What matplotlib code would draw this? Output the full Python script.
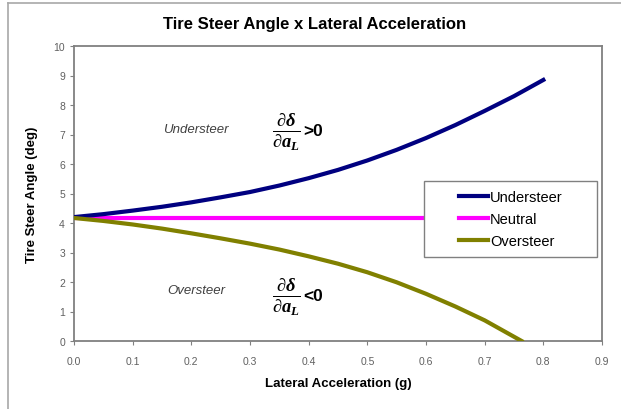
import matplotlib
matplotlib.use("Agg")
import matplotlib.pyplot as plt
from matplotlib.lines import Line2D
from matplotlib.patches import Rectangle

plt.rcParams['font.family'] = ['Liberation Sans', 'DejaVu Sans']
plt.rcParams['mathtext.fontset'] = 'custom'
plt.rcParams['mathtext.rm'] = 'Liberation Serif:bold:italic'
plt.rcParams['mathtext.it'] = 'Liberation Serif:bold:italic'
plt.rcParams['mathtext.bf'] = 'Liberation Serif:bold:italic'

accel = [0.0, 0.05, 0.1, 0.15, 0.2, 0.25, 0.3, 0.35, 0.4, 0.45, 0.5, 0.55, 0.6, 0.65, 0.7, 0.75, 0.8]
understeer = [4.2, 4.3, 4.42, 4.55, 4.7, 4.87, 5.05, 5.27, 5.52, 5.8, 6.12, 6.48, 6.88, 7.32, 7.8, 8.3, 8.85]
neutral = [4.17] * len(accel)
over_accel = [0.0, 0.05, 0.1, 0.15, 0.2, 0.25, 0.3, 0.35, 0.4, 0.45, 0.5, 0.55, 0.6, 0.65, 0.7, 0.763]
oversteer = [4.17, 4.07, 3.95, 3.81, 3.65, 3.48, 3.3, 3.1, 2.87, 2.62, 2.33, 1.99, 1.6, 1.17, 0.7, 0.0]
xticks = [0.0, 0.1, 0.2, 0.3, 0.4, 0.5, 0.6, 0.7, 0.8, 0.9]
yticks = [0, 1, 2, 3, 4, 5, 6, 7, 8, 9, 10]
series_names = ['Understeer', 'Neutral', 'Oversteer']
series_colors = ['#000080', '#ff00ff', '#808000']

W, H = 621, 410
fig = plt.figure(figsize=(W / 100, H / 100), dpi=100)
ax = fig.add_axes([74 / W, (H - 342) / H, (602 - 74) / W, (342 - 47) / H])

# outer frame lines (left and top)
fig.add_artist(Line2D([7.5 / W, 7.5 / W], [0, (H - 4) / H], color='#a8a8a8', lw=1.2, transform=fig.transFigure))
fig.add_artist(Line2D([7.5 / W, 1], [(H - 4) / H, (H - 4) / H], color='#a8a8a8', lw=1.2, transform=fig.transFigure))

ax.plot(accel, understeer, color=series_colors[0], lw=3, zorder=3)
ax.plot(accel, neutral, color=series_colors[1], lw=3, zorder=2)
ax.plot(over_accel, oversteer, color=series_colors[2], lw=3, zorder=3)

ax.set_xlim(0, 0.9)
ax.set_ylim(0, 10)
ax.set_xticks(xticks)
ax.set_xticklabels([f'{v:.1f}' for v in xticks])
ax.set_yticks(yticks)
ax.tick_params(axis='both', direction='out', length=3, color='#808080', labelsize=7.5, labelcolor='#606060')
ax.tick_params(axis='x', pad=8)
for s in ax.spines.values():
    s.set_color('#808080')
    s.set_linewidth(1.3)

ax.set_xlabel('Lateral Acceleration (g)', fontsize=9.5, fontweight='bold', labelpad=8)
ax.set_ylabel('Tire Steer Angle (deg)', fontsize=9.5, fontweight='bold', labelpad=11)
fig.text(315 / W, (H - 25) / H, 'Tire Steer Angle x Lateral Acceleration', ha='center', va='center',
         fontsize=12, fontweight='bold')

ax.text(0.208, 7.19, 'Understeer', style='italic', color='#404040', fontsize=9.5, ha='center', va='center')
ax.text(0.208, 1.73, 'Oversteer', style='italic', color='#404040', fontsize=9.5, ha='center', va='center')
frac = r'$\frac{\partial\delta}{\partial a_L}$'
ax.text(0.3375, 7.12, frac, fontsize=19, ha='left', va='center')
ax.text(0.3375, 1.53, frac, fontsize=19, ha='left', va='center')
ax.text(0.39, 7.12, '>0', fontsize=12.5, fontweight='bold', ha='left', va='center')
ax.text(0.39, 1.53, '<0', fontsize=12.5, fontweight='bold', ha='left', va='center')

# legend box
fig.add_artist(Rectangle((424 / W, (H - 258) / H), (597 - 424) / W, (258 - 182) / H, transform=fig.transFigure,
                         facecolor='white', edgecolor='#808080', lw=1.0, zorder=4))
handles = [Line2D([], [], color=c, lw=3) for c in series_colors]
leg = fig.legend(handles, series_names, loc='center left', bbox_to_anchor=(459 / W, (H - 220) / H),
                 fontsize=10.5, frameon=False, handlelength=2.0, handletextpad=0.12, borderpad=0,
                 labelspacing=0.55, borderaxespad=0)
leg.set_zorder(5)

fig.savefig('out.png', dpi=100)
